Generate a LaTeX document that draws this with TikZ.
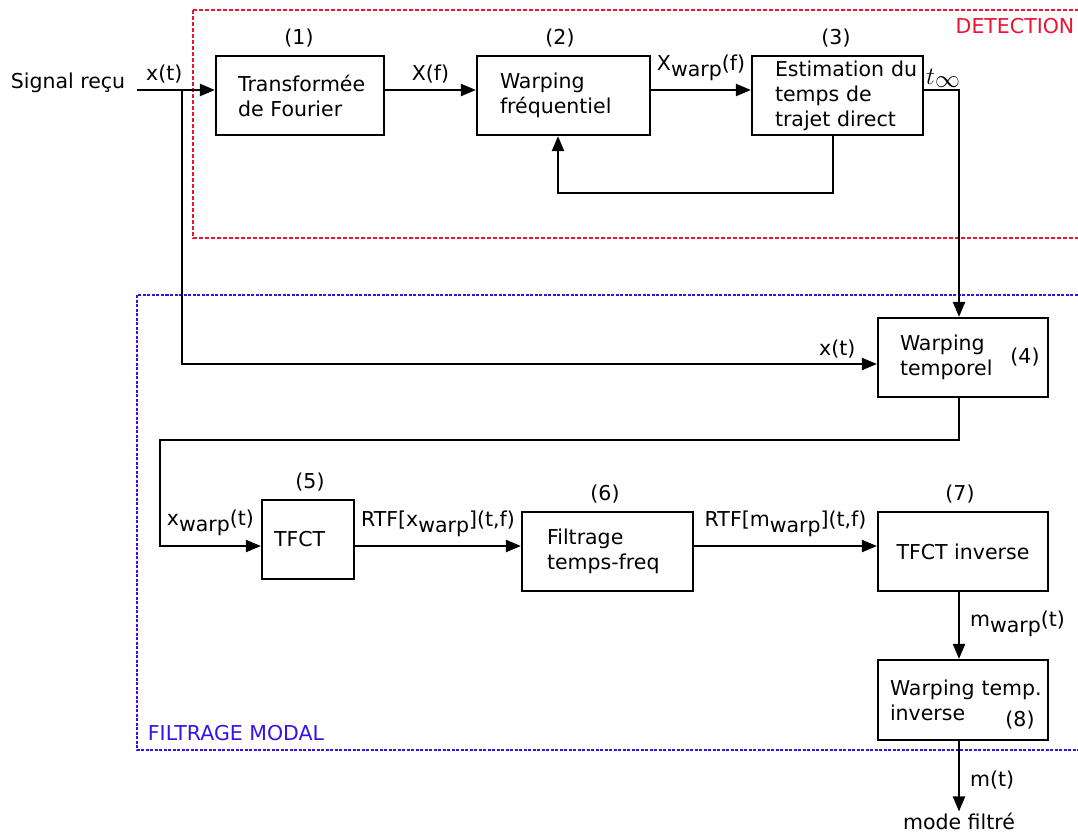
\documentclass[tikz,border=0pt]{standalone}
\usepackage{fontspec}
\setmainfont{DejaVu Sans}
\usetikzlibrary{arrows.meta}
\definecolor{detred}{RGB}{235,20,50}
\definecolor{filtblue}{RGB}{50,20,235}
\newcommand\lowr[1]{\raisebox{-0.3em}{#1}}
\begin{document}
\begin{tikzpicture}[x=1pt,y=-1pt,
 box/.style={draw, line width=2.2pt, minimum height=79pt, inner ysep=0pt, align=left, font=\fontsize{20.5}{25}\selectfont},
 arr/.style={line width=2.2pt, -{Triangle[length=15pt,width=12pt]}},
 lab/.style={font=\fontsize{20.5}{23}\selectfont, inner sep=1pt},
 zone/.style={line width=1.8pt}]
\useasboundingbox (0,0) rectangle (1078,836);
% zones
\draw[zone, detred, dash pattern=on 4pt off 2pt] (193,10) rectangle (1095,238);
\node[lab, text=detred] (det) at (1015,26) {DETECTION};
\draw[zone, filtblue, dash pattern=on 3pt off 1.5pt] (137,295) rectangle (1095,750);
\node[lab, text=filtblue] (fm) at (236,733) {FILTRAGE MODAL};
% top boxes
\node[box, minimum width=168pt, text width=124pt, inner xsep=22pt] (b1) at (300,95.5) {Transformée\\de Fourier};
\node[box, minimum width=173pt, text width=127pt, inner xsep=23pt] (b2) at (563.5,95.5) {Warping\\fréquentiel};
\node[box, minimum width=171pt, text width=125pt, inner xsep=23pt] (b3) at (837.5,95.5) {\mbox{Estimation du}\\temps de\\trajet direct};
\node[lab] (n1) at (299,38) {(1)};
\node[lab] (n2) at (560,38) {(2)};
\node[lab] (n3) at (836,38) {(3)};
% lower boxes
\node[box, minimum width=170pt, text width=126pt, inner xsep=22pt] (b4) at (963,357.5) {Warping\\temporel};
\node[lab] (n4) at (1025,357) {(4)};
\node[box, minimum width=92pt, text width=68pt, inner xsep=12pt] (b5) at (308,539.5) {TFCT};
\node[lab] (n5) at (310,482) {(5)};
\node[box, minimum width=171pt, text width=121pt, inner xsep=25pt] (b6) at (607.5,551.5) {Filtrage\\temps-freq};
\node[lab] (n6) at (605,494) {(6)};
\node[box, minimum width=170pt, align=center] (b7) at (963,551.5) {TFCT inverse};
\node[lab] (n7) at (960,494) {(7)};
\node[box, minimum width=170pt, minimum height=80pt, text width=146pt, inner xsep=12pt] (b8) at (963,700) {\mbox{Warping temp.}\\inverse};
\node[lab] (n8) at (1020,720) {(8)};
% input
\node[lab] (sig) at (68,83) {Signal reçu};
\coordinate (in) at (137,90);
\coordinate (br) at (182,90);
\draw[arr] (in) -- node[lab, above=5pt, pos=0.35] {x(t)} ([yshift=5.5pt]b1.west);
\draw[arr] (br) |- node[lab, anchor=south east, pos=0.986, yshift=4pt] {x(t)} ([yshift=-6.5pt]b4.west);
% top chain
\draw[arr] ([yshift=5.5pt]b1.east) -- node[lab, above=5pt] {X(f)} ([yshift=5.5pt]b2.west);
\draw[arr] ([yshift=5.5pt]b2.east) -- node[lab, above=7pt] {X\lowr{warp}(f)} ([yshift=5.5pt]b3.west);
\draw[arr] ([xshift=-4.5pt]b3.south) -- ++(0,57) -| ([xshift=-5.5pt]b2.south);
\draw[arr] ([yshift=5.5pt]b3.east) node[anchor=south west, inner sep=1pt, font=\fontsize{36}{36}\selectfont] (tinf) {$t_\infty$} -| ([xshift=-4pt]b4.north);
% lower chain
\coordinate (k1) at (160,440);
\draw[arr] ([xshift=-4pt]b4.south) |- (k1) |- node[lab, above=8pt, pos=0.75] {x\lowr{warp}(t)} ([yshift=-6.5pt]b5.west);
\draw[arr] ([yshift=-6.5pt]b5.east) -- node[lab, above=7pt] {RTF[x\lowr{warp}](t,f)} ([yshift=5.5pt]b6.west);
\draw[arr] ([yshift=5.5pt]b6.east) -- node[lab, above=7pt] {RTF[m\lowr{warp}](t,f)} ([yshift=5.5pt]b7.west);
\draw[arr] ([xshift=-4pt]b7.south) -- node[lab, right=9pt, yshift=2pt] {m\lowr{warp}(t)} ([xshift=-4pt]b8.north);
\node[lab] (mode) at (959,821) {mode filtré};
\draw[arr] ([xshift=-4pt]b8.south) -- node[lab, right=9pt, pos=0.55] {m(t)} (mode.north);
\end{tikzpicture}
\end{document}
